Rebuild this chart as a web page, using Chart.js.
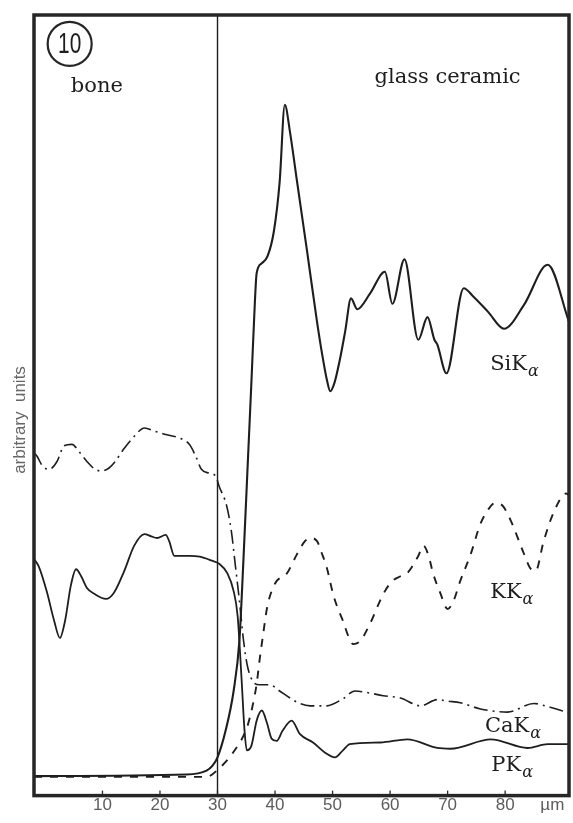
<!DOCTYPE html>
<html>
<head>
<meta charset="utf-8">
<script src="https://cdn.jsdelivr.net/npm/chart.js@4.4.0/dist/chart.umd.min.js"></script>
<style>
  html, body { margin: 0; padding: 0; background: #fff; }
  #wrap { width: 573px; height: 823px; }
</style>
</head>
<body>
<div id="wrap"><canvas id="canvas" width="573" height="823"></canvas></div>
<script>
'use strict';
// line scan across the bone / glass ceramic interface, depth in µm
const siDepth = [-1.9, 24.6, 28.1, 29.1, 30.0, 31.4, 32.8, 33.8, 34.5, 35.2, 35.9, 36.5, 36.8, 37.7, 38.7, 39.8, 40.8, 41.7, 42.6, 43.8, 45.5, 47.3, 48.2, 49.0, 49.6, 50.3, 51.2, 52.2, 53.2, 54.3, 56.5, 59.1, 60.4, 62.5, 64.9, 66.5, 67.7, 68.2, 69.8, 72.8, 74.5, 77.0, 79.8, 83.3, 87.4, 91.1];
const siCounts = [2.5, 2.7, 3.2, 3.8, 4.9, 8.3, 13.4, 19.8, 30.1, 41.6, 53.1, 63.3, 66.9, 68.2, 69.1, 72.3, 78.6, 88.5, 85.0, 78.8, 70.1, 60.7, 56.5, 53.3, 51.8, 52.8, 55.6, 59.5, 63.7, 62.3, 64.3, 67.1, 63.0, 68.7, 58.4, 61.3, 58.4, 57.8, 54.1, 65.0, 63.9, 62.0, 59.8, 62.9, 68.0, 60.7];

const kDepth = [-1.9, 28.1, 30.3, 32.6, 35.1, 36.1, 36.8, 37.3, 37.9, 38.6, 39.4, 40.3, 42.0, 43.8, 45.2, 46.1, 47.3, 48.2, 49.0, 50.1, 50.9, 51.8, 52.7, 53.6, 54.8, 56.5, 58.8, 60.4, 61.8, 63.0, 64.9, 65.8, 66.7, 67.5, 68.7, 70.0, 71.0, 72.2, 74.0, 75.7, 77.1, 78.3, 79.6, 81.0, 83.1, 84.5, 85.3, 86.7, 88.5, 90.6, 91.1];
const kCounts = [2.4, 2.4, 3.5, 5.4, 8.7, 11.5, 14.3, 17.3, 20.5, 24.0, 26.2, 27.5, 28.4, 30.9, 32.6, 33.0, 32.6, 30.9, 29.2, 25.8, 24.0, 22.4, 20.5, 19.4, 19.8, 22.0, 25.8, 27.5, 28.1, 28.5, 30.7, 32.0, 30.7, 28.4, 26.0, 23.9, 24.9, 27.5, 30.9, 34.8, 36.7, 37.5, 37.1, 35.2, 31.3, 29.0, 28.8, 32.6, 36.4, 38.7, 38.5];

const caDepth = [-1.9, -1.4, -0.4, 0.7, 2.1, 3.3, 4.7, 5.9, 7.3, 8.7, 9.9, 11.2, 12.0, 13.8, 15.5, 17.3, 19.0, 20.8, 23.4, 25.1, 26.2, 27.2, 28.6, 29.7, 30.3, 31.6, 32.4, 33.1, 33.8, 34.5, 35.2, 36.1, 37.3, 39.1, 40.8, 42.6, 44.3, 46.1, 49.0, 51.8, 53.9, 56.0, 58.8, 61.8, 65.3, 68.2, 70.0, 72.2, 75.7, 80.4, 85.0, 87.4, 91.1];
const caCounts = [43.9, 43.5, 42.2, 41.8, 42.8, 44.8, 45.0, 44.1, 42.8, 41.8, 41.6, 42.0, 42.6, 44.5, 46.0, 47.1, 46.7, 46.3, 45.8, 45.0, 43.5, 41.8, 41.3, 40.9, 39.6, 37.1, 33.9, 29.5, 25.0, 20.0, 16.6, 14.7, 14.2, 14.2, 13.4, 12.5, 11.8, 11.5, 11.5, 12.4, 13.4, 13.2, 12.8, 12.5, 11.5, 12.3, 12.1, 11.9, 11.1, 10.7, 11.8, 11.4, 10.6];

const pDepth = [-1.9, -1.1, 0.3, 1.6, 2.6, 3.5, 4.5, 5.4, 6.3, 7.3, 8.7, 10.6, 12.0, 13.8, 15.5, 17.3, 18.5, 19.5, 21.0, 21.6, 22.5, 25.1, 26.9, 29.0, 30.3, 31.7, 32.8, 33.5, 34.2, 34.7, 35.1, 35.9, 36.8, 37.7, 38.6, 39.4, 40.3, 41.3, 42.9, 44.3, 46.6, 48.7, 50.4, 51.8, 53.0, 58.3, 63.0, 68.2, 70.5, 77.5, 83.9, 87.4, 91.1];
const pCounts = [30.3, 29.4, 26.2, 22.4, 20.2, 22.4, 26.9, 29.0, 28.1, 26.6, 25.8, 25.2, 26.0, 28.8, 32.0, 33.5, 33.2, 33.0, 33.4, 32.6, 30.7, 30.7, 30.6, 30.1, 29.7, 28.5, 26.2, 23.0, 14.7, 8.3, 5.8, 6.4, 9.6, 10.9, 9.3, 7.3, 7.0, 8.3, 9.6, 7.9, 6.8, 5.5, 4.9, 5.8, 6.6, 6.8, 7.2, 6.1, 6.0, 7.2, 6.1, 6.6, 6.6];

const tickValues = [10, 20, 30, 40, 50, 60, 70, 80];
const unitTick = 88.2;
const interfaceDepth = 30;

function pairs(xs, ys) {
  return xs.map((x, i) => ({ x: x, y: ys[i] }));
}

const ink = '#1e1e1e';

// series name labels, subscript alpha drawn smaller
function elementLabel(ctx, x, y, base) {
  ctx.font = '21px "DejaVu Serif"';
  ctx.fillText(base, x, y);
  const w = ctx.measureText(base).width;
  ctx.font = 'italic 16px "DejaVu Serif"';
  ctx.fillText('\u03b1', x + w + 1, y + 6);
}

const decor = {
  id: 'decor',
  beforeDatasetsDraw(chart) {
    const { ctx, chartArea: a, scales: { x } } = chart;
    const ix = x.getPixelForValue(interfaceDepth);
    ctx.save();
    ctx.strokeStyle = ink;
    ctx.lineWidth = 1.4;
    ctx.beginPath();
    ctx.moveTo(ix, a.top);
    ctx.lineTo(ix, a.bottom);
    ctx.stroke();
    ctx.restore();
  },
  afterDatasetsDraw(chart) {
    const { ctx, chartArea: a, scales: { x, y } } = chart;
    ctx.save();
    // frame
    ctx.strokeStyle = '#262626';
    ctx.lineWidth = 3.5;
    ctx.strokeRect(a.left, a.top, a.right - a.left, a.bottom - a.top);
    // small inward ticks
    ctx.lineWidth = 1.3;
    tickValues.forEach(v => {
      const px = x.getPixelForValue(v);
      ctx.beginPath();
      ctx.moveTo(px, a.bottom);
      ctx.lineTo(px, a.bottom - 5);
      ctx.stroke();
    });

    ctx.fillStyle = ink;
    ctx.textBaseline = 'alphabetic';
    ctx.textAlign = 'left';
    ctx.font = '21px "DejaVu Serif"';
    ctx.fillText('bone', x.getPixelForValue(4.5), y.getPixelForValue(90.1));
    ctx.fillText('glass ceramic', x.getPixelForValue(57.3), y.getPixelForValue(91.3));

    elementLabel(ctx, x.getPixelForValue(77.4), y.getPixelForValue(54.5), 'SiK');
    elementLabel(ctx, x.getPixelForValue(77.4), y.getPixelForValue(25.3), 'KK');
    elementLabel(ctx, x.getPixelForValue(76.5), y.getPixelForValue(8.1), 'CaK');
    elementLabel(ctx, x.getPixelForValue(77.6), y.getPixelForValue(3.1), 'PK');

    // figure number in a circle
    const cx = x.getPixelForValue(4.3), cy = y.getPixelForValue(96.3);
    ctx.lineWidth = 2.2;
    ctx.beginPath();
    ctx.arc(cx, cy, 22, 0, Math.PI * 2);
    ctx.stroke();
    ctx.save();
    ctx.translate(cx, cy + 1);
    ctx.scale(0.72, 1);
    ctx.font = '29px "Liberation Sans"';
    ctx.textAlign = 'center';
    ctx.textBaseline = 'middle';
    ctx.fillText('10', 0, 0);
    ctx.restore();

    // axis title
    ctx.save();
    ctx.translate(20, 420);
    ctx.rotate(-Math.PI / 2);
    ctx.fillStyle = '#666';
    ctx.font = '17px "Liberation Sans"';
    ctx.textAlign = 'center';
    ctx.textBaseline = 'middle';
    ctx.fillText('arbitrary  units', 0, 0);
    ctx.restore();
    ctx.restore();
  }
};

const lineBase = {
  pointRadius: 0,
  borderColor: ink,
  fill: false,
  cubicInterpolationMode: 'monotone'
};

new Chart(document.getElementById('canvas'), {
  type: 'line',
  data: {
    datasets: [
      Object.assign({ label: 'SiKα', data: pairs(siDepth, siCounts), borderWidth: 2.1 }, lineBase),
      Object.assign({ label: 'PKα', data: pairs(pDepth, pCounts), borderWidth: 1.8 }, lineBase),
      Object.assign({ label: 'CaKα', data: pairs(caDepth, caCounts), borderWidth: 1.6, borderDash: [14, 5, 2, 5] }, lineBase),
      Object.assign({ label: 'KKα', data: pairs(kDepth, kCounts), borderWidth: 1.9, borderDash: [8, 8] }, lineBase)
    ]
  },
  options: {
    responsive: false,
    animation: false,
    layout: { padding: { left: 34, right: 4, top: 15, bottom: 7 } },
    plugins: { legend: { display: false }, tooltip: { enabled: false } },
    scales: {
      x: {
        type: 'linear',
        min: -1.9,
        max: 91.1,
        grid: { display: false, drawTicks: false },
        border: { display: false },
        afterBuildTicks: scale => {
          scale.ticks = tickValues.concat([unitTick]).map(v => ({ value: v }));
        },
        ticks: {
          autoSkip: false,
          maxRotation: 0,
          padding: 0,
          color: '#5c5c5c',
          font: { family: 'Liberation Sans', size: 17 },
          callback: v => (v === unitTick ? '\u00b5m' : String(v))
        }
      },
      y: {
        display: false,
        min: 0,
        max: 100
      }
    }
  },
  plugins: [decor]
});
</script>
</body>
</html>
